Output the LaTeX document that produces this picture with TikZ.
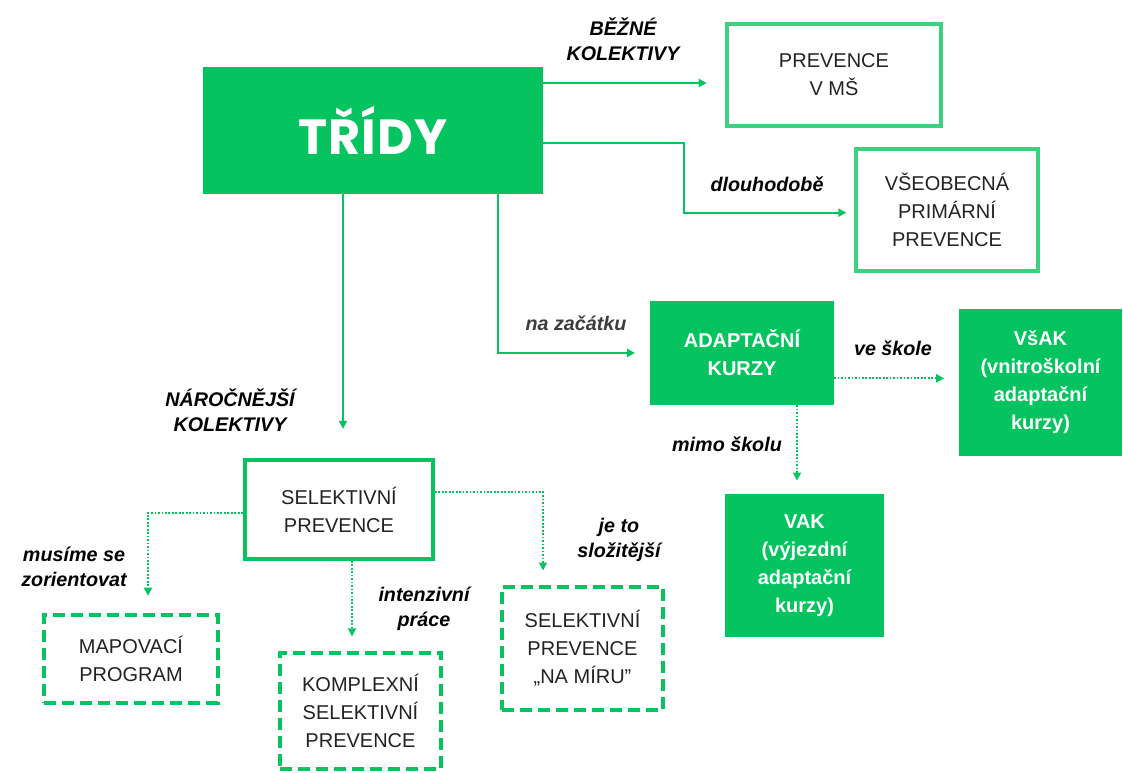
\documentclass[tikz,border=0pt]{standalone}
\usepackage{fontspec}
\setmainfont{Liberation Sans}
\newfontfamily\titlefont[LetterSpace=2]{Poppins}
\usetikzlibrary{arrows.meta}
\definecolor{zelena}{HTML}{05C460}
\definecolor{svetla}{HTML}{3DD07F}
\definecolor{seda}{HTML}{3C3C3C}
\definecolor{text}{HTML}{222222}

\begin{document}
\begin{tikzpicture}[x=0.75pt, y=-0.75pt,
   box_fill/.style={rectangle, fill=zelena, text=white, align=center, font=\fontsize{15}{21}\selectfont\bfseries},
   box_line/.style={rectangle, draw=svetla, line width=3pt, text=text, align=center, font=\fontsize{15}{21}\selectfont},
   box_sel/.style={rectangle, draw=zelena, line width=3pt, text=text, align=center, font=\fontsize{15}{21}\selectfont},
   box_dash/.style={box_sel, dash pattern=on 9pt off 4.5pt},
   edge_style/.style={draw=zelena, line width=1.5pt, -{Triangle[length=6pt, width=6pt]}},
   dot_style/.style={draw=zelena, line width=1.3pt, dash pattern=on 1.3pt off 1.3pt, -{Triangle[length=6pt, width=6pt]}},
   label_style/.style={align=center, text=black, font=\fontsize{14.8}{19}\selectfont\bfseries\itshape}]

    \useasboundingbox (0,0) rectangle (1123,773);

    % boxes
    \node[box_fill, minimum width=255pt, minimum height=95pt, font=\titlefont\fontsize{37}{42}\selectfont\bfseries] (tridy) at (373,130.5) {TŘÍDY};
    \node[box_line, minimum width=160pt, minimum height=76pt] (ms) at (834,75) {PREVENCE\\V MŠ};
    \node[box_line, minimum width=136pt, minimum height=92pt] (vsp) at (947,210) {VŠEOBECNÁ\\PRIMÁRNÍ\\PREVENCE};
    \node[box_fill, minimum width=138pt, minimum height=78pt] (adapt) at (742,353) {ADAPTAČNÍ\\KURZY};
    \node[box_fill, minimum width=122pt, minimum height=110pt] (vsak) at (1040.5,382.5) {VšAK\\(vnitroškolní\\adaptační\\kurzy)};
    \node[box_fill, minimum width=119pt, minimum height=107pt] (vak) at (804.5,565.5) {VAK\\(výjezdní\\adaptační\\kurzy)};
    \node[box_sel, minimum width=141pt, minimum height=74pt] (sel) at (339,509.5) {SELEKTIVNÍ\\PREVENCE};
    \node[box_dash, minimum width=130pt, minimum height=66pt] (mapo) at (131,659) {MAPOVACÍ\\PROGRAM};
    \node[box_dash, minimum width=121pt, minimum height=87pt] (komp) at (360.5,711) {KOMPLEXNÍ\\SELEKTIVNÍ\\PREVENCE};
    \node[box_dash, minimum width=121pt, minimum height=92pt] (namiru) at (582.5,648.5) {SELEKTIVNÍ\\PREVENCE\\„NA MÍRU”};

    % labels
    \node[label_style] (l_bezne) at (623,39) {BĚŽNÉ\\KOLEKTIVY};
    \node[label_style] (l_dlouho) at (767,184) {dlouhodobě};
    \node[label_style] (l_narocne) at (230,410) {NÁROČNĚJŠÍ\\KOLEKTIVY};
    \node[label_style, text=seda] (l_zacatek) at (576,323) {na začátku};
    \node[label_style] (l_skola) at (893,348) {ve škole};
    \node[label_style] (l_mimo) at (727,444) {mimo školu};
    \node[label_style] (l_musime) at (74,567) {musíme se\\zorientovat};
    \node[label_style] (l_prace) at (424,609) {intenzivní\\práce};
    \node[label_style] (l_slozite) at (619,540) {je to\\složitější};

    % connectors
    \coordinate (ms_in) at ([yshift=-6pt]ms.west);
    \coordinate (adapt_out) at ([yshift=-19pt]adapt.east);
    \coordinate (zlom1) at (684,143);
    \coordinate (zlom2) at (498,353);
    \draw[edge_style, shorten >=14pt] (tridy.east |- ms_in) -- (ms_in);
    \draw[edge_style, shorten >=6pt] (tridy.east |- zlom1) -- (zlom1) |- ([yshift=-2pt]vsp.west);
    \draw[edge_style, shorten >=22pt] (tridy.south -| 343,0) -- (sel.north -| 343,0);
    \draw[edge_style, shorten >=11pt] (tridy.south -| zlom2) -- (zlom2) -- (adapt.west);
    \draw[dot_style, shorten >=11pt] (adapt_out) -- (vsak.west |- adapt_out);
    \draw[dot_style, shorten >=10pt] (adapt.south -| 797,0) -- (vak.north -| 797,0);
    \draw[dot_style, shorten >=13pt] ([yshift=-2.5pt]sel.west) -| (mapo.north -| 148,0);
    \draw[dot_style, shorten >=11pt] (sel.south -| 352,0) -- (komp.north -| 352,0);
    \draw[dot_style, shorten >=11pt] ([yshift=13pt]sel.east) -| (namiru.north -| 543,0);
\end{tikzpicture}
\end{document}
